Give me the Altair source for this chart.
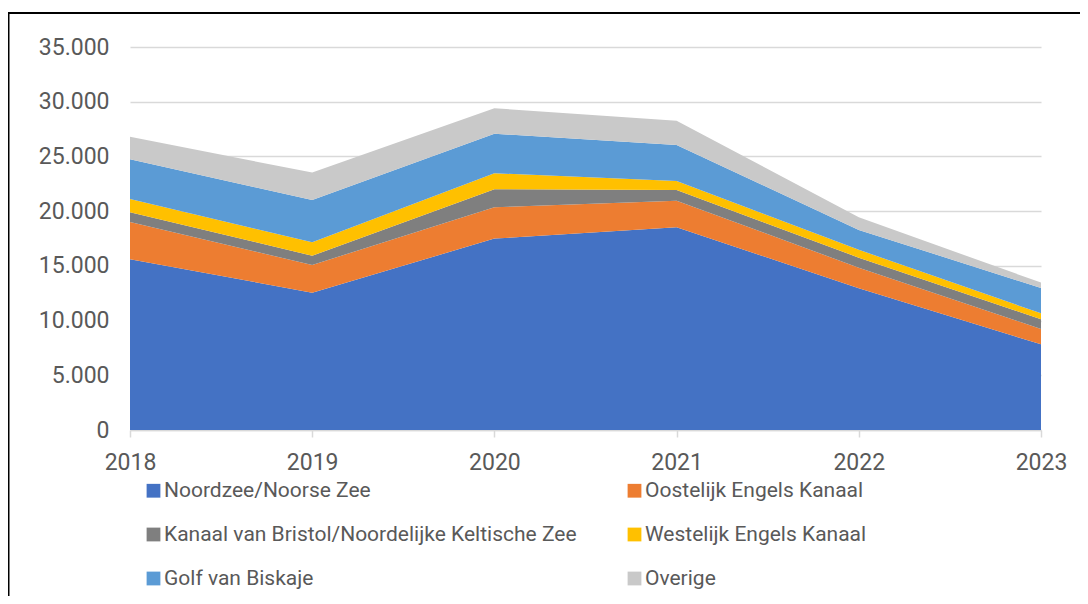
import altair as alt
import pandas as pd

years = [2018, 2019, 2020, 2021, 2022, 2023]
series = [
    "Noordzee/Noorse Zee",
    "Oostelijk Engels Kanaal",
    "Kanaal van Bristol/Noordelijke Keltische Zee",
    "Westelijk Engels Kanaal",
    "Golf van Biskaje",
    "Overige",
]
noordzee = [15600, 12550, 17490, 18530, 12950, 7830]
oostelijk = [3400, 2530, 2870, 2430, 1880, 1400]
bristol = [900, 850, 1640, 980, 920, 890]
westelijk = [1200, 1230, 1460, 820, 720, 540]
biskaje = [3650, 3860, 3620, 3290, 1810, 2320]
overige = [2050, 2500, 2320, 2220, 1160, 490]
colors = ["#4472C4", "#ED7D31", "#7F7F7F", "#FFC000", "#5B9BD5", "#C9C9C9"]
y_ticks = [0, 5000, 10000, 15000, 20000, 25000, 30000, 35000]

values = [noordzee, oostelijk, bristol, westelijk, biskaje, overige]
rows = []
for i, (name, vals) in enumerate(zip(series, values)):
    for y, v in zip(years, vals):
        rows.append({"jaar": y, "gebied": name, "waarde": v, "volg": i})
df = pd.DataFrame(rows)

FONT = "Roboto"
TXT = "#595959"

area = alt.Chart(df).mark_area(opacity=1).encode(
    x=alt.X("jaar:Q", scale=alt.Scale(domain=[2018, 2023], nice=False, zero=False),
            axis=alt.Axis(values=years, format="d", title=None, grid=False,
                          labelFlush=False,
                          domainColor="#d9d9d9", domainWidth=1.5,
                          tickColor="#d9d9d9", tickSize=7, tickWidth=1.5,
                          labelPadding=14, labelFontSize=23, labelColor=TXT,
                          labelFont=FONT)),
    y=alt.Y("waarde:Q", stack="zero", scale=alt.Scale(domain=[0, 35000], nice=False),
            axis=alt.Axis(values=y_ticks, title=None, domain=False, ticks=False,
                          labelPadding=21, labelFontSize=23, labelColor=TXT,
                          labelFont=FONT, gridColor="#d9d9d9", gridWidth=1.5,
                          labelExpr="replace(format(datum.value, ','), ',', '.')")),
    color=alt.Color("gebied:N", scale=alt.Scale(domain=series, range=colors),
                    legend=alt.Legend(title=None, orient="none", legendX=13, legendY=433,
                                      direction="horizontal",
                                      columns=2, columnPadding=47, rowPadding=22,
                                      symbolType="square", symbolSize=190,
                                      symbolStrokeWidth=0, labelOffset=0,
                                      labelFontSize=21, labelColor=TXT, labelFont=FONT,
                                      labelLimit=700, padding=0)),
    order=alt.Order("volg:Q"),
)

border = alt.Chart(pd.DataFrame({"k": [0]})).mark_rect(
    fill=None, stroke="black", strokeWidth=2
).encode(
    x=alt.value(-121.5), x2=alt.value(1000), y=alt.value(-34), y2=alt.value(700)
)

chart = alt.layer(area, border).properties(
    width=911, height=383,
    autosize=alt.AutoSizeParams(type="none"),
    padding={"left": 122, "top": 39, "right": 39, "bottom": 166},
).configure(font=FONT).configure_view(stroke=None)

chart.save("out.html", embed_options={"renderer": "svg", "actions": False})
